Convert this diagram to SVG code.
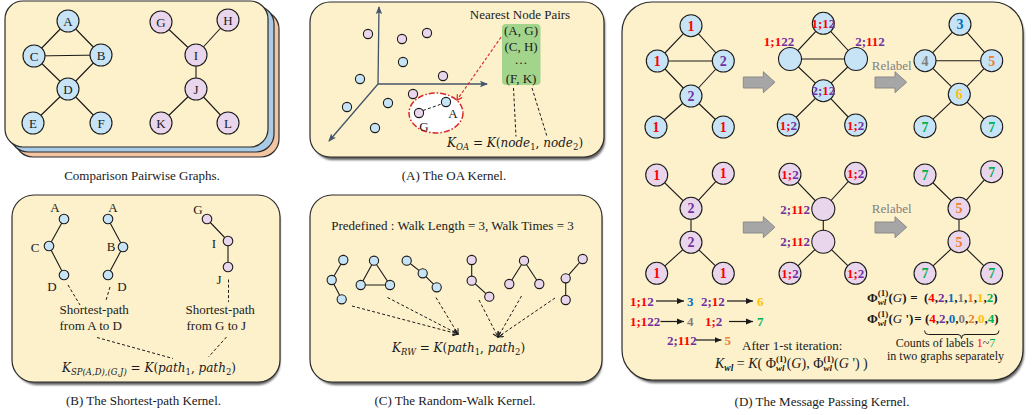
<svg xmlns="http://www.w3.org/2000/svg" width="1034" height="415" viewBox="0 0 1034 415">
<defs>
<style>
.card{fill:#fdf1cb;stroke:#2b2b2b;stroke-width:1.2}
.shadow{fill:#5e5e5e;filter:url(#soft)}
.e{stroke:#1a1a1a;stroke-width:1.1;fill:none}
.nb{fill:#c7e4f7;stroke:#1a1a1a;stroke-width:1.1}
.np{fill:#e9d6ec;stroke:#1a1a1a;stroke-width:1.1}
.t{font-family:"Liberation Serif","Times New Roman",serif;fill:#1a1a1a}
.c{text-anchor:middle}
.cap{font-size:13px;text-anchor:middle}
.f13{font-size:13px}
.f14{font-size:14px}
.m{font-family:"DejaVu Serif",serif;font-size:12px;fill:#1a1a1a}
.i{font-style:italic}
.b{font-weight:bold}
.sg{font-family:"Liberation Serif",serif;font-weight:normal;font-style:italic}
.d{stroke:#1a1a1a;stroke-width:1;stroke-dasharray:3 2.2;fill:none}
.cr{fill:#ff0000}.cp{fill:#7030a0}.cb{fill:#0070c0}.cg{fill:#7f7f7f}.co{fill:#ed7d31}.cy{fill:#ffc000}.cgr{fill:#00b050}
</style>
<filter id="soft" x="-5%" y="-5%" width="110%" height="110%"><feGaussianBlur stdDeviation="1.3"/></filter>
<marker id="ax" markerUnits="userSpaceOnUse" markerWidth="9" markerHeight="8" refX="7" refY="4" orient="auto"><path d="M0,0.8 L8,4 L0,7.2 L1.6,4 Z" fill="#44546a"/></marker>
<marker id="va" markerUnits="userSpaceOnUse" markerWidth="8" markerHeight="8" refX="5.5" refY="3.5" orient="auto"><path d="M0.5,0.5 L5.5,3.5 L0.5,6.5" fill="none" stroke="#1a1a1a" stroke-width="1.1"/></marker>
<marker id="ra" markerUnits="userSpaceOnUse" markerWidth="8" markerHeight="8" refX="5.5" refY="3.5" orient="auto"><path d="M0.5,0.5 L5.5,3.5 L0.5,6.5" fill="none" stroke="#d62828" stroke-width="1.2"/></marker>
<marker id="la" markerUnits="userSpaceOnUse" markerWidth="8" markerHeight="8" refX="7" refY="3.5" orient="auto"><path d="M0,0.5 L7,3.5 L0,6.5 Z" fill="#1a1a1a"/></marker>
<path id="blk" d="M0,5.3 H20 V0 L31.7,10.5 L20,21 V16.3 H0 Z"/>
</defs>

<!-- Comparison pairwise graphs: stacked cards -->
<g id="pairwise-graphs">
<rect x="15" y="11" width="264" height="146" rx="18" fill="#f3c5a3" stroke="#2b2b2b" stroke-width="1.2"/>
<rect x="10" y="6" width="264" height="146" rx="18" fill="#aacbe5" stroke="#2b2b2b" stroke-width="1.2"/>
<rect x="5" y="1" width="263" height="146" rx="18" class="card"/>
<g id="pairwise-edges">
<path class="e" d="M68,21 L34,56 M68,21 L101,55 M34,56 L101,55 M34,56 L68,89 M101,55 L68,89 M68,89 L33,123 M68,89 L101,123"/>
<path class="e" d="M161,22 L196,55 M228,20 L196,55 M196,55 L196,89 M196,89 L161,123 M196,89 L228,123"/>
</g>
<g id="node-A"><circle class="nb" cx="68" cy="21" r="11"/><text class="t c f13" x="68" y="25.5">A</text></g>
<g id="node-B"><circle class="nb" cx="101" cy="55" r="11"/><text class="t c f13" x="101" y="59.5">B</text></g>
<g id="node-C"><circle class="nb" cx="34" cy="56" r="11"/><text class="t c f13" x="34" y="60.5">C</text></g>
<g id="node-D"><circle class="nb" cx="68" cy="89" r="11"/><text class="t c f13" x="68" y="93.5">D</text></g>
<g id="node-E"><circle class="nb" cx="33" cy="123" r="11"/><text class="t c f13" x="33" y="127.5">E</text></g>
<g id="node-F"><circle class="nb" cx="101" cy="123" r="11"/><text class="t c f13" x="101" y="127.5">F</text></g>
<g id="node-G"><circle class="np" cx="161" cy="22" r="11"/><text class="t c f13" x="161" y="26.5">G</text></g>
<g id="node-H"><circle class="np" cx="228" cy="20" r="11"/><text class="t c f13" x="228" y="24.5">H</text></g>
<g id="node-I"><circle class="np" cx="196" cy="55" r="11"/><text class="t c f13" x="196" y="59.5">I</text></g>
<g id="node-J"><circle class="np" cx="196" cy="89" r="11"/><text class="t c f13" x="196" y="93.5">J</text></g>
<g id="node-K"><circle class="np" cx="161" cy="123" r="11"/><text class="t c f13" x="161" y="127.5">K</text></g>
<g id="node-L"><circle class="np" cx="228" cy="123" r="11"/><text class="t c f13" x="228" y="127.5">L</text></g>
<text class="t cap" x="142" y="180">Comparison Pairwise Graphs.</text>
</g>

<!-- (A) optimal assignment kernel -->
<g id="oa-kernel">
<rect x="313" y="5" width="292" height="155" rx="20" class="shadow"/>
<rect x="310" y="2" width="294" height="155" rx="20" class="card"/>
<g id="oa-axes" stroke="#44546a" stroke-width="1.3" fill="none">
<line x1="378" y1="84" x2="379" y2="7" marker-end="url(#ax)"/>
<line x1="378" y1="84" x2="487" y2="84" marker-end="url(#ax)"/>
<line x1="378" y1="84" x2="329" y2="141" marker-end="url(#ax)"/>
</g>
<g id="oa-points">
<circle class="np" cx="368" cy="34" r="4.6"/>
<circle class="np" cx="402" cy="39" r="4.6"/>
<circle class="np" cx="427" cy="33" r="4.6"/>
<circle class="np" cx="443" cy="76" r="4.6"/>
<circle class="np" cx="413" cy="94" r="4.6"/>
<circle class="nb" cx="403" cy="62" r="4.6"/>
<circle class="nb" cx="360" cy="79" r="4.6"/>
<circle class="nb" cx="347" cy="107" r="4.6"/>
<circle class="nb" cx="388" cy="103" r="4.6"/>
<circle class="nb" cx="375" cy="128" r="4.6"/>
</g>
<g id="oa-pair">
<ellipse cx="436" cy="113" rx="27" ry="20" fill="#ffffff" stroke="#d62828" stroke-width="1.5" stroke-dasharray="6 2 1.5 2"/>
<line class="d" x1="423" y1="110.5" x2="441.5" y2="104"/>
<circle class="np" cx="419" cy="113" r="4.6"/>
<circle class="nb" cx="446" cy="102" r="4.6"/>
<text class="t c f13" x="453" y="118">A</text>
<text class="t c f13" x="424" y="131">G</text>
</g>
<line x1="504" y1="33" x2="457" y2="100" stroke="#d62828" stroke-width="1.1" stroke-dasharray="3 2" marker-end="url(#ra)"/>
<text class="t c f13" x="520" y="19">Nearest Node Pairs</text>
<g id="oa-pairs-box">
<rect x="502" y="24" width="38.5" height="61" rx="4" fill="#a3d48c"/>
<text class="t c f13" x="521" y="35">(A, G)</text>
<text class="t c f13" x="521" y="50.5">(C, H)</text>
<text class="t c f13" x="521" y="64">…</text>
<text class="t c f13" x="521" y="82.5">(F, K)</text>
</g>
<g id="oa-links">
<line class="d" x1="513.5" y1="88" x2="516" y2="136.5"/>
<line class="d" x1="532" y1="88" x2="547" y2="136.5"/>
</g>
<text class="m" x="447" y="147"><tspan class="i">K</tspan><tspan class="i" font-size="8.5" dy="3">OA</tspan><tspan dy="-3"> = </tspan><tspan class="i">K</tspan>(<tspan class="i">node</tspan><tspan font-size="8.5" dy="3">1</tspan><tspan dy="-3">, </tspan><tspan class="i">node</tspan><tspan font-size="8.5" dy="3">2</tspan><tspan dy="-3">)</tspan></text>
<text class="t cap" x="454" y="180">(A) The OA Kernel.</text>
</g>

<!-- (B) shortest-path kernel -->
<g id="sp-kernel">
<rect x="15" y="198" width="265" height="187" rx="22" class="shadow"/>
<rect x="12" y="195" width="268" height="187" rx="22" class="card"/>
<g id="sp-edges">
<path class="e" d="M64,219 L49,246 L64,275 M108,219 L123,247 L108,275 M207,219 L228,241 L228,267"/>
</g>
<g id="sp-nodes">
<circle class="nb" cx="64" cy="219" r="4.8"/>
<circle class="nb" cx="49" cy="246" r="4.8"/>
<circle class="nb" cx="64" cy="275" r="4.8"/>
<circle class="nb" cx="108" cy="219" r="4.8"/>
<circle class="nb" cx="123" cy="247" r="4.8"/>
<circle class="nb" cx="108" cy="275" r="4.8"/>
<circle class="np" cx="207" cy="219" r="4.8"/>
<circle class="np" cx="228" cy="241" r="4.8"/>
<circle class="np" cx="228" cy="267" r="4.8"/>
</g>
<g id="sp-labels" class="t c f13">
<text x="55" y="212">A</text>
<text x="35" y="251.5">C</text>
<text x="52" y="291">D</text>
<text x="113" y="212">A</text>
<text x="111" y="251">B</text>
<text x="122" y="291">D</text>
<text x="198" y="213.5">G</text>
<text x="214" y="247.5">I</text>
<text x="219" y="283.5">J</text>
</g>
<g id="sp-links">
<line class="d" x1="68" y1="285" x2="80" y2="305"/>
<line class="d" x1="110" y1="287" x2="105.5" y2="302"/>
<line class="d" x1="228.5" y1="279.5" x2="228.5" y2="302"/>
<line class="d" x1="97" y1="337.5" x2="173" y2="358.5"/>
<line class="d" x1="226.5" y1="337" x2="208.5" y2="357"/>
</g>
<text class="t f13" x="59.5" y="313.5">Shortest-path</text>
<text class="t f13" x="59.5" y="329.5">from A to D</text>
<text class="t f13" x="185.5" y="313.5">Shortest-path</text>
<text class="t f13" x="186.5" y="329.5">from G to J</text>
<text class="m" x="62" y="372"><tspan class="i">K</tspan><tspan class="i" font-size="8.5" dy="3">SP(A,D),(G,J)</tspan><tspan dy="-3"> = </tspan><tspan class="i">K</tspan>(<tspan class="i">path</tspan><tspan font-size="8.5" dy="3">1</tspan><tspan dy="-3">, </tspan><tspan class="i">path</tspan><tspan font-size="8.5" dy="3">2</tspan><tspan dy="-3">)</tspan></text>
<text class="t cap" x="143.5" y="405">(B) The Shortest-path Kernel.</text>
</g>

<!-- (C) random-walk kernel -->
<g id="rw-kernel">
<rect x="313" y="198" width="289" height="187" rx="22" class="shadow"/>
<rect x="310" y="195" width="292" height="187" rx="22" class="card"/>
<text class="t c f13" x="452.5" y="230">Predefined : Walk Length = 3, Walk Times = 3</text>
<g id="rw-edges">
<path class="e" d="M343.3,260 L331.7,280 L341.7,299.3 M374,260.7 L360.7,285 L390,285 Z M406.7,260.7 L422.7,273.3 L436.7,287.3"/>
<path class="e" d="M471.7,260 L471.7,280.7 L489.3,296.7 M509.3,284 L524,260.7 L539.3,284 M582.7,259 L565.7,278.3 L565.7,300"/>
</g>
<g id="rw-walks">
<circle class="nb" cx="343.3" cy="260" r="4.6"/>
<circle class="nb" cx="331.7" cy="280" r="4.6"/>
<circle class="nb" cx="341.7" cy="299.3" r="4.6"/>
<circle class="nb" cx="374" cy="260.7" r="4.6"/>
<circle class="nb" cx="360.7" cy="285" r="4.6"/>
<circle class="nb" cx="390" cy="285" r="4.6"/>
<circle class="nb" cx="406.7" cy="260.7" r="4.6"/>
<circle class="nb" cx="422.7" cy="273.3" r="4.6"/>
<circle class="nb" cx="436.7" cy="287.3" r="4.6"/>
<circle class="np" cx="471.7" cy="260" r="4.6"/>
<circle class="np" cx="471.7" cy="280.7" r="4.6"/>
<circle class="np" cx="489.3" cy="296.7" r="4.6"/>
<circle class="np" cx="524" cy="260.7" r="4.6"/>
<circle class="np" cx="509.3" cy="284" r="4.6"/>
<circle class="np" cx="539.3" cy="284" r="4.6"/>
<circle class="np" cx="582.7" cy="259" r="4.6"/>
<circle class="np" cx="565.7" cy="278.3" r="4.6"/>
<circle class="np" cx="565.7" cy="300" r="4.6"/>
</g>
<g id="rw-links">
<line class="d" x1="352" y1="306" x2="458" y2="334" marker-end="url(#va)"/>
<line class="d" x1="387.5" y1="297.5" x2="458" y2="334" marker-end="url(#va)"/>
<line class="d" x1="436" y1="297.5" x2="458" y2="334" marker-end="url(#va)"/>
<line class="d" x1="479" y1="300" x2="498" y2="337" marker-end="url(#va)"/>
<line class="d" x1="521.5" y1="296" x2="498" y2="337" marker-end="url(#va)"/>
<line class="d" x1="555" y1="298" x2="498" y2="337" marker-end="url(#va)"/>
</g>
<text class="m" x="392" y="352"><tspan class="i">K</tspan><tspan class="i" font-size="8.5" dy="3">RW</tspan><tspan dy="-3"> = </tspan><tspan class="i">K</tspan>(<tspan class="i">path</tspan><tspan font-size="8.5" dy="3">1</tspan><tspan dy="-3">, </tspan><tspan class="i">path</tspan><tspan font-size="8.5" dy="3">2</tspan><tspan dy="-3">)</tspan></text>
<text class="t cap" x="455" y="405">(C) The Random-Walk Kernel.</text>
</g>

<!-- (D) message passing (Weisfeiler-Lehman) kernel -->
<g id="wl-kernel">
<rect x="625" y="5" width="399" height="378" rx="30" class="shadow"/>
<rect x="622" y="2" width="401" height="378" rx="30" class="card"/>

<g id="wl-edges">
<path class="e" d="M691,25.7 L657.3,61 M691,25.7 L723.3,61 M657.3,61 L723.3,61 M657.3,61 L691,96 M723.3,61 L691,96 M691,96 L656,127 M691,96 L723.3,127"/>
<path class="e" d="M823.3,23.3 L790,59 M823.3,23.3 L856,59 M790,59 L856,59 M790,59 L823.3,90.7 M856,59 L823.3,90.7 M823.3,90.7 L788.3,125 M823.3,90.7 L855.7,125"/>
<path class="e" d="M960,24.3 L925,60.7 M960,24.3 L991.7,60.7 M925,60.7 L991.7,60.7 M925,60.7 L959.3,94.3 M991.7,60.7 L959.3,94.3 M959.3,94.3 L925,126.7 M959.3,94.3 L991.7,126.7"/>
<path class="e" d="M656.7,175 L691,208.3 M723.3,173.3 L691,208.3 M691,208.3 L691,242.3 M691,242.3 L656.7,273.3 M691,242.3 L723.3,273.3"/>
<path class="e" d="M790,174.3 L823.3,209 M855.7,173.3 L823.3,209 M823.3,209 L823.3,241.7 M823.3,241.7 L790,273.3 M823.3,241.7 L855.7,273.3"/>
<path class="e" d="M925,175 L959,208.3 M991.7,171.7 L959,208.3 M959,208.3 L959,241.7 M959,241.7 L925,273.3 M959,241.7 L991.7,273.3"/>
</g>

<g id="wl-g1-start" class="t c b f14">
<circle class="nb" cx="691" cy="25.7" r="11"/><text class="cr" x="691" y="30.7">1</text>
<circle class="nb" cx="657.3" cy="61" r="11"/><text class="cr" x="657.3" y="66">1</text>
<circle class="nb" cx="723.3" cy="61" r="11"/><text class="cp" x="723.3" y="66">2</text>
<circle class="nb" cx="691" cy="96" r="11"/><text class="cp" x="691" y="101">2</text>
<circle class="nb" cx="656" cy="127" r="11"/><text class="cr" x="656" y="132">1</text>
<circle class="nb" cx="723.3" cy="127" r="11"/><text class="cr" x="723.3" y="132">1</text>
</g>
<g id="wl-g1-agg" class="t c b f13">
<circle class="nb" cx="823.3" cy="23.3" r="11"/><text x="823.3" y="27.8"><tspan class="cr">1;1</tspan><tspan class="cp">2</tspan></text>
<circle class="nb" cx="790" cy="59" r="11.5"/><text x="779" y="45.5"><tspan class="cr">1;1</tspan><tspan class="cp">22</tspan></text>
<circle class="nb" cx="856" cy="59" r="11.5"/><text x="870" y="45.5"><tspan class="cp">2;</tspan><tspan class="cr">11</tspan><tspan class="cp">2</tspan></text>
<circle class="nb" cx="823.3" cy="90.7" r="11"/><text x="823.3" y="95.2"><tspan class="cp">2;</tspan><tspan class="cr">1</tspan><tspan class="cp">2</tspan></text>
<circle class="nb" cx="788.3" cy="125" r="11"/><text x="788.3" y="129.5"><tspan class="cr">1;</tspan><tspan class="cp">2</tspan></text>
<circle class="nb" cx="855.7" cy="125" r="11"/><text x="855.7" y="129.5"><tspan class="cr">1;</tspan><tspan class="cp">2</tspan></text>
</g>
<g id="wl-g1-relabel" class="t c b f14">
<circle class="nb" cx="960" cy="24.3" r="11"/><text class="cb" x="960" y="29.3">3</text>
<circle class="nb" cx="925" cy="60.7" r="11"/><text class="cg" x="925" y="65.7">4</text>
<circle class="nb" cx="991.7" cy="60.7" r="11"/><text class="co" x="991.7" y="65.7">5</text>
<circle class="nb" cx="959.3" cy="94.3" r="11"/><text class="cy" x="959.3" y="99.3">6</text>
<circle class="nb" cx="925" cy="126.7" r="11"/><text class="cgr" x="925" y="131.7">7</text>
<circle class="nb" cx="991.7" cy="126.7" r="11"/><text class="cgr" x="991.7" y="131.7">7</text>
</g>

<g id="wl-g2-start" class="t c b f14">
<circle class="np" cx="656.7" cy="175" r="11"/><text class="cr" x="656.7" y="180">1</text>
<circle class="np" cx="723.3" cy="173.3" r="11"/><text class="cr" x="723.3" y="178.3">1</text>
<circle class="np" cx="691" cy="208.3" r="11"/><text class="cp" x="691" y="213.3">2</text>
<circle class="np" cx="691" cy="242.3" r="11"/><text class="cp" x="691" y="247.3">2</text>
<circle class="np" cx="656.7" cy="273.3" r="11"/><text class="cr" x="656.7" y="278.3">1</text>
<circle class="np" cx="723.3" cy="273.3" r="11"/><text class="cr" x="723.3" y="278.3">1</text>
</g>
<g id="wl-g2-agg" class="t c b f13">
<circle class="np" cx="790" cy="174.3" r="11"/><text x="790" y="178.8"><tspan class="cr">1;</tspan><tspan class="cp">2</tspan></text>
<circle class="np" cx="855.7" cy="173.3" r="11"/><text x="855.7" y="177.8"><tspan class="cr">1;</tspan><tspan class="cp">2</tspan></text>
<circle class="np" cx="823.3" cy="209" r="11.5"/><text x="810" y="213.5" text-anchor="end"><tspan class="cp">2;</tspan><tspan class="cr">11</tspan><tspan class="cp">2</tspan></text>
<circle class="np" cx="823.3" cy="241.7" r="11.5"/><text x="810" y="246.2" text-anchor="end"><tspan class="cp">2;</tspan><tspan class="cr">11</tspan><tspan class="cp">2</tspan></text>
<circle class="np" cx="790" cy="273.3" r="11"/><text x="790" y="277.8"><tspan class="cr">1;</tspan><tspan class="cp">2</tspan></text>
<circle class="np" cx="855.7" cy="273.3" r="11"/><text x="855.7" y="277.8"><tspan class="cr">1;</tspan><tspan class="cp">2</tspan></text>
</g>
<g id="wl-g2-relabel" class="t c b f14">
<circle class="np" cx="925" cy="175" r="11"/><text class="cgr" x="925" y="180">7</text>
<circle class="np" cx="991.7" cy="171.7" r="11"/><text class="cgr" x="991.7" y="176.7">7</text>
<circle class="np" cx="959" cy="208.3" r="11"/><text class="co" x="959" y="213.3">5</text>
<circle class="np" cx="959" cy="241.7" r="11"/><text class="co" x="959" y="246.7">5</text>
<circle class="np" cx="925" cy="273.3" r="11"/><text class="cgr" x="925" y="278.3">7</text>
<circle class="np" cx="991.7" cy="273.3" r="11"/><text class="cgr" x="991.7" y="278.3">7</text>
</g>

<g id="wl-steps" fill="#a6a6a6" stroke="#8a8a8a" stroke-width="1">
<use href="#blk" x="743.3" y="71.7"/>
<use href="#blk" x="875" y="71.7"/>
<use href="#blk" x="743.3" y="216.7"/>
<use href="#blk" x="875" y="216.7"/>
</g>
<text class="t c f13" x="891.7" y="70" style="fill:#7f7f7f">Relabel</text>
<text class="t c f13" x="891.7" y="212.5" style="fill:#7f7f7f">Relabel</text>

<g id="wl-table" class="t b f13">
<text x="630" y="305.5"><tspan class="cr">1;1</tspan><tspan class="cp">2</tspan></text>
<text class="cb" x="687" y="305.5">3</text>
<text x="701" y="305.5"><tspan class="cp">2;</tspan><tspan class="cr">1</tspan><tspan class="cp">2</tspan></text>
<text class="cy" x="757" y="305.5">6</text>
<text x="630" y="326"><tspan class="cr">1;1</tspan><tspan class="cp">22</tspan></text>
<text class="cg" x="687" y="326">4</text>
<text x="705" y="326"><tspan class="cr">1;</tspan><tspan class="cp">2</tspan></text>
<text class="cgr" x="757" y="326">7</text>
<text x="667" y="344.5"><tspan class="cp">2;</tspan><tspan class="cr">11</tspan><tspan class="cp">2</tspan></text>
<text class="co" x="724.5" y="344.5">5</text>
</g>
<g id="wl-table-arrows" stroke="#1a1a1a" stroke-width="1.2">
<line x1="656" y1="301" x2="684" y2="301" marker-end="url(#la)"/>
<line x1="727" y1="301" x2="753" y2="301" marker-end="url(#la)"/>
<line x1="660.5" y1="321.5" x2="684" y2="321.5" marker-end="url(#la)"/>
<line x1="729" y1="321.5" x2="753" y2="321.5" marker-end="url(#la)"/>
<line x1="696" y1="340" x2="721.5" y2="340" marker-end="url(#la)"/>
</g>

<text class="t f13" x="742" y="350">After 1-st iteration:</text>
<text class="t f14" x="715" y="368"><tspan class="i">K</tspan><tspan class="i b" font-size="9.5" dy="3">wl</tspan><tspan dy="-3"> = </tspan><tspan class="i">K</tspan>( Φ<tspan class="b" font-size="9" dy="-6">(1)</tspan><tspan class="b i" font-size="9" dx="-10.5" dy="9">wl</tspan><tspan dx="2.2" dy="-3">(</tspan><tspan class="sg">G</tspan>), Φ<tspan class="b" font-size="9" dy="-6">(1)</tspan><tspan class="b i" font-size="9" dx="-10.5" dy="9">wl</tspan><tspan dx="2.2" dy="-3">(</tspan><tspan class="sg">G</tspan> ') )</text>

<text class="t b f13" x="867" y="302">Φ<tspan font-size="9" dy="-6">(1)</tspan><tspan class="i" font-size="9" dx="-10.5" dy="9">wl</tspan><tspan dx="2.2" dy="-3">(</tspan><tspan class="sg">G</tspan>)</text>
<text class="t b f13 c" x="914" y="302">=</text>
<text class="t b f13" x="924" y="302">(<tspan class="cr">4</tspan>,<tspan class="cp">2</tspan>,<tspan class="cb">1</tspan>,<tspan class="cg">1</tspan>,<tspan class="co">1</tspan>,<tspan class="cy">1</tspan>,<tspan class="cgr">2</tspan>)</text>
<text class="t b f13" x="867" y="323">Φ<tspan font-size="9" dy="-6">(1)</tspan><tspan class="i" font-size="9" dx="-10.5" dy="9">wl</tspan><tspan dx="2.2" dy="-3">(</tspan><tspan class="sg">G</tspan> ')</text>
<text class="t b f13 c" x="918" y="323">=</text>
<text class="t b f13" x="925" y="323">(<tspan class="cr">4</tspan>,<tspan class="cp">2</tspan>,<tspan class="cb">0</tspan>,<tspan class="cg">0</tspan>,<tspan class="co">2</tspan>,<tspan class="cy">0</tspan>,<tspan class="cgr">4</tspan>)</text>
<path d="M924.5,330.5 Q924.5,334.5 928.5,334.5 L958,334.5 Q961.5,334.5 961.5,338.5 Q961.5,334.5 965,334.5 L995,334.5 Q999,334.5 999,330.5" fill="none" stroke="#1a1a1a" stroke-width="1"/>
<text class="t c" font-size="12" x="945.5" y="347">Counts of labels <tspan class="cr">1</tspan>~<tspan class="cgr">7</tspan></text>
<text class="t c" font-size="12" x="945.5" y="360">in two graphs separately</text>
<text class="t cap" x="822" y="406">(D) The Message Passing Kernel.</text>
</g>
</svg>
